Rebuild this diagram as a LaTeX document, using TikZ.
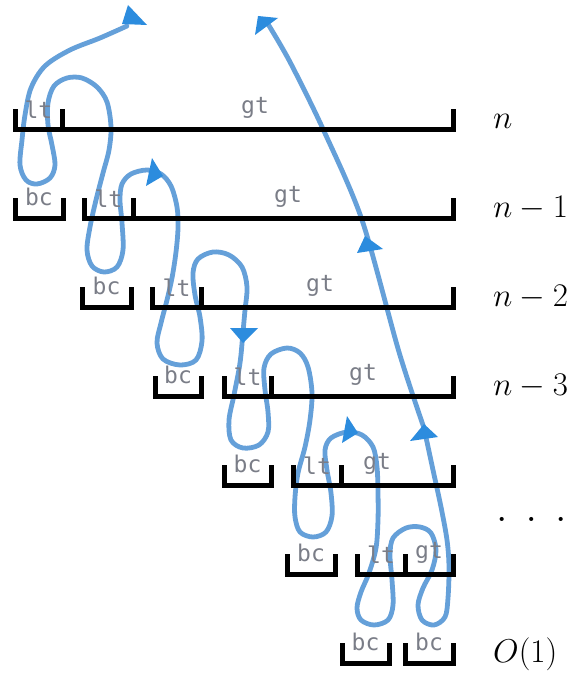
\RequirePackage{fix-cm}
\documentclass[tikz,border=0pt]{standalone}
\usepackage{fontspec}
\newfontfamily\codefont{DejaVu Sans Mono}
\definecolor{curveblue}{RGB}{88,152,214}
\definecolor{arrowblue}{RGB}{44,140,222}
\definecolor{labgray}{RGB}{122,125,135}
\tikzset{
  brk/.style={line width=5pt, black, line cap=butt, line join=miter},
  curve/.style={line width=4.8pt, curveblue, opacity=0.92, line cap=round, line join=round},
  ahead/.style={fill=arrowblue},
  lab/.style={font=\codefont\fontsize{23}{25}\selectfont, text=labgray, inner sep=0pt, anchor=south},
  mlab/.style={font=\fontsize{33}{38}\selectfont, inner sep=0pt, anchor=base west}
}
\begin{document}
\begin{tikzpicture}[x=1pt,y=-1pt]
\useasboundingbox (0,0) rectangle (574,677);

% ---- blue traversal curve ----
\draw[curve] plot[smooth, tension=0.55] coordinates {
(127,26) (100,38) (70,50) (45,66) (31,88) (25,115) (22,140) (20,165) (26,180) (37,184) (50,178) (55,165) (52,145) (48,125) (48,103) (54,86) (67,78) (82,78) (97,87) (107,102) (111,127) (109,150) (103,173) (96,200) (90,227) (87,250) (92,266) (104,272) (117,267) (123,250) (122,223) (120,200) (122,184) (131,174) (147,170) (161,174) (171,186) (177,207) (178,228) (176,252) (172,278) (167,300) (161,323) (157,343) (163,359) (180,365) (196,360) (202,341) (200,317) (195,295) (193,273) (198,259) (213,252) (229,255) (242,267) (247,287) (245,310) (243,332) (240,363) (234,395) (229,420) (231,440) (243,448) (259,445) (268,432) (268,412) (265,390) (264,368) (271,354) (287,348) (300,353) (308,367) (312,393) (310,420) (305,447) (298,473) (295,497) (295,517) (300,532) (313,537) (326,532) (332,516) (331,493) (327,470) (325,450) (331,438) (347,432) (362,435) (373,447) (377,467) (378,493) (378,520) (376,548) (369,573) (361,592) (357,608) (361,620) (374,625) (388,620) (393,605) (392,580) (390,555) (393,538) (406,528) (420,527) (431,533) (436,550) (432,570) (423,588) (418,605) (422,620) (434,625) (445,617) (448,598) (449,567) (447,540) (441,507) (433,470) (424,428)};
\draw[curve] plot[smooth, tension=0.5] coordinates {
(424,428) (399,352) (362,220) (323,129) (290,62) (268,24)};

% ---- arrowheads ----
\fill[ahead] (128,5) -- (147,25) -- (122,24) -- cycle;
\fill[ahead] (152,158) -- (163,176) -- (146,186) -- cycle;
\fill[ahead] (230,328) -- (258,328) -- (243,343) -- cycle;
\fill[ahead] (347,416) -- (358,433) -- (342,443) -- cycle;
\fill[ahead] (424,424) -- (438,437) -- (410,441) -- cycle;
\fill[ahead] (365,236) -- (383,249) -- (357,253) -- cycle;
\fill[ahead] (258,16) -- (278,18) -- (255,35) -- cycle;

% ---- brackets ----
% row n (y=129)
\draw[brk] (15,109) -- (15,129) -- (453,129) -- (453,109);
\draw[brk] (62,109) -- (62,129);
% row n-1 (y=218)
\draw[brk] (15,198) -- (15,218) -- (63,218) -- (63,198);
\draw[brk] (84,198) -- (84,218) -- (453,218) -- (453,198);
\draw[brk] (133,198) -- (133,218);
% row n-2 (y=307)
\draw[brk] (82,287) -- (82,307) -- (131,307) -- (131,287);
\draw[brk] (152,287) -- (152,307) -- (453,307) -- (453,287);
\draw[brk] (201,287) -- (201,307);
% row n-3 (y=396)
\draw[brk] (155,376) -- (155,396) -- (201,396) -- (201,376);
\draw[brk] (224,376) -- (224,396) -- (453,396) -- (453,376);
\draw[brk] (271,376) -- (271,396);
% row 5 (y=485)
\draw[brk] (224,465) -- (224,485) -- (271,485) -- (271,465);
\draw[brk] (293,465) -- (293,485) -- (453,485) -- (453,465);
\draw[brk] (341,465) -- (341,485);
% row 6 (y=574)
\draw[brk] (287,554) -- (287,574) -- (335,574) -- (335,554);
\draw[brk] (357,554) -- (357,574) -- (453,574) -- (453,554);
\draw[brk] (405,554) -- (405,574);
% row 7 (y=663)
\draw[brk] (342,643) -- (342,663) -- (389,663) -- (389,643);
\draw[brk] (405,643) -- (405,663) -- (453,663) -- (453,643);

% ---- code labels ----
\node[lab] (lt0) at (38.5,119) {lt};
\node[lab] (gt0) at (255,119) {gt};
\node[lab] (bc1) at (39,206) {bc};
\node[lab] (lt1) at (108.5,208) {lt};
\node[lab] (gt1) at (288,208) {gt};
\node[lab] (bc2) at (106.5,295) {bc};
\node[lab] (lt2) at (176.5,297) {lt};
\node[lab] (gt2) at (320,297) {gt};
\node[lab] (bc3) at (178,384) {bc};
\node[lab] (lt3) at (247.5,386) {lt};
\node[lab] (gt3) at (363,386) {gt};
\node[lab] (bc4) at (247.5,473) {bc};
\node[lab] (lt4) at (317,475) {lt};
\node[lab] (gt4) at (377,475) {gt};
\node[lab] (bc5) at (311,562) {bc};
\node[lab] (lt5) at (381,564) {lt};
\node[lab] (gt5) at (429,564) {gt};
\node[lab] (bc6) at (365.5,651) {bc};
\node[lab] (bc7) at (429,651) {bc};

% ---- size labels ----
\node[mlab] (s0) at (493,128) {$n$};
\node[mlab] (s1) at (493,217) {$n-1$};
\node[mlab] (s2) at (493,306) {$n-2$};
\node[mlab] (s3) at (493,395) {$n-3$};
\node[mlab, font=\fontsize{42}{46}\selectfont] (s4) at (496,521) {$.\hspace{0.43em}.\hspace{0.43em}.$};
\node[mlab] (s5) at (493,662) {$O(1)$};
\end{tikzpicture}
\end{document}
